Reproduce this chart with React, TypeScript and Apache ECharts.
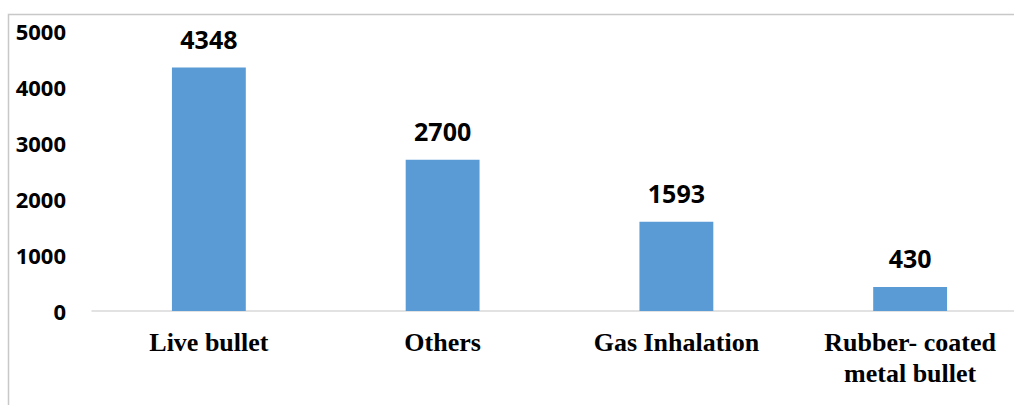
import React, { useEffect, useRef } from "react";
import * as echarts from "echarts";

const categories = ["Live bullet", "Others", "Gas Inhalation", "Rubber- coated\nmetal bullet"];
const values = [4348, 2700, 1593, 430];
const yTicks = [0, 1000, 2000, 3000, 4000, 5000];

export default function App() {
  const ref = useRef<HTMLDivElement>(null);
  useEffect(() => {
    if (!ref.current) return;
    const chart = echarts.init(ref.current, null, { renderer: "svg" });
    chart.setOption({
      animation: false,
      backgroundColor: "#ffffff",
      graphic: [
        {
          type: "rect",
          shape: { x: 8.5, y: 14.5, width: 1100, height: 500 },
          style: { fill: "none", stroke: "#c8c8c8", lineWidth: 1.5 },
          silent: true,
        },
      ],
      grid: { left: 92, right: 0, top: 31, bottom: 405 - 311, containLabel: false },
      xAxis: {
        type: "category",
        data: categories,
        axisLine: { show: true, lineStyle: { color: "#d9d9d9", width: 1.5 } },
        axisTick: { show: false },
        axisLabel: {
          interval: 0,
          margin: 16,
          fontFamily: "Liberation Serif",
          fontWeight: "bold",
          fontSize: 26,
          lineHeight: 31,
          color: "#000000",
        },
      },
      yAxis: {
        type: "value",
        min: yTicks[0],
        max: yTicks[yTicks.length - 1],
        interval: 1000,
        axisLine: { show: false },
        axisTick: { show: false },
        splitLine: { show: false },
        axisLabel: {
          margin: 26,
          formatter: (v: number) => String(v),
          fontFamily: "Noto Sans",
          fontWeight: "bold",
          fontSize: 22,
          color: "#000000",
        },
      },
      series: [
        {
          type: "bar",
          data: values,
          barWidth: "31.6%",
          itemStyle: { color: "#5b9bd5" },
          label: {
            show: true,
            position: "top",
            distance: 16,
            fontFamily: "Noto Sans",
            fontWeight: "bold",
            fontSize: 25,
            color: "#000000",
          },
        },
      ],
    });
    return () => chart.dispose();
  }, []);
  return (
    <div
      ref={ref}
      style={{ position: "fixed", left: 0, top: 0, width: 1027, height: 405 }}
    />
  );
}
